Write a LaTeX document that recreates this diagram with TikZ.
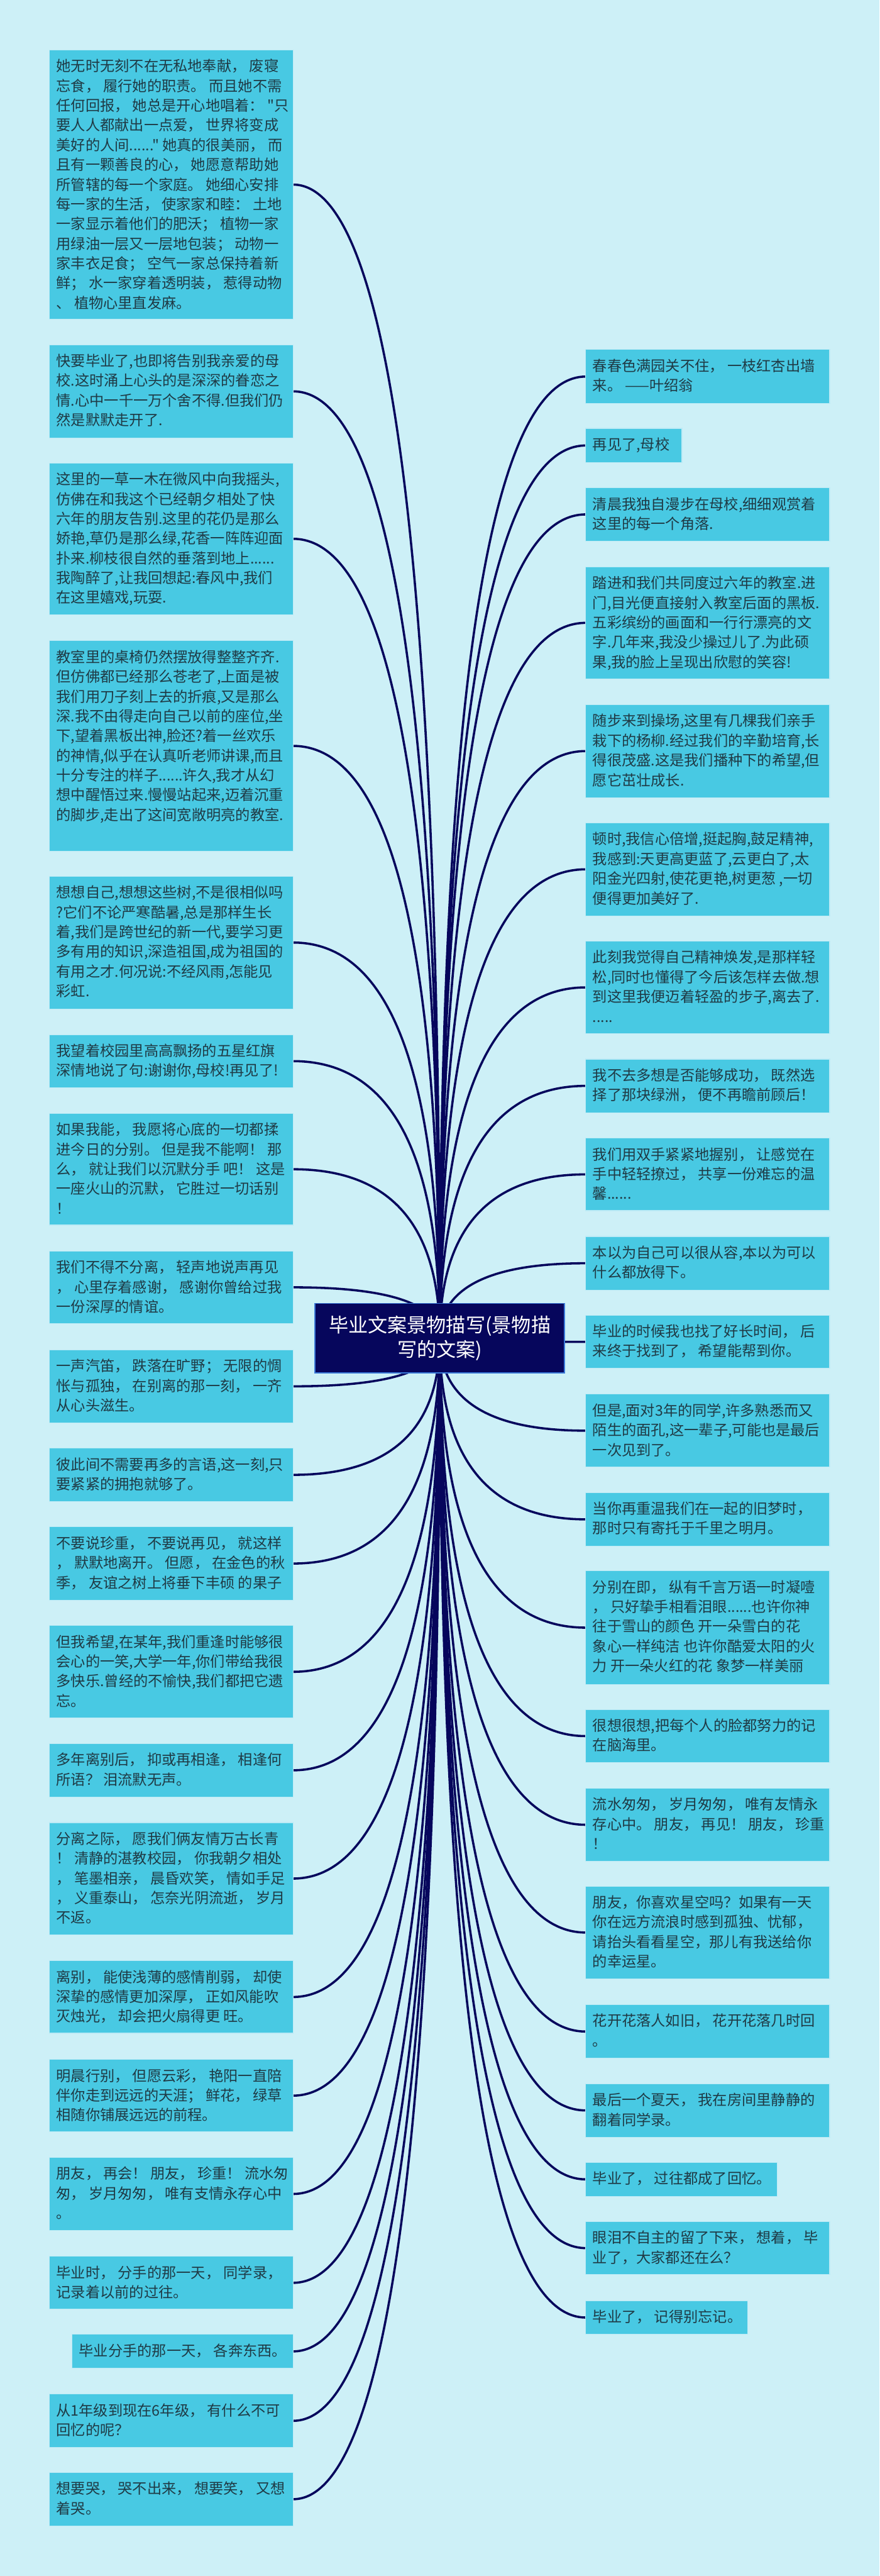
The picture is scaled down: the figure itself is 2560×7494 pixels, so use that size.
\documentclass[tikz,border=0pt]{standalone}
\usepackage{fontspec}
\newfontfamily\cjk{Noto Sans CJK SC}
\usetikzlibrary{calc}
\definecolor{bgc}{HTML}{CDF0F7}
\definecolor{leaffill}{HTML}{48C9E3}
\definecolor{leafline}{HTML}{BDEAF5}
\definecolor{txt}{HTML}{1F3A45}
\definecolor{navy}{HTML}{06065C}
\definecolor{rootline}{HTML}{3A78D8}
\pgfdeclarelayer{bg}\pgfdeclarelayer{lines}\pgfsetlayers{bg,lines,main}
\tikzset{
 leafbox/.style={draw=leafline, line width=2pt, fill=leaffill, inner sep=0pt, outer sep=0pt},
 leaftext/.style={inner sep=0pt, outer sep=0pt, align=left, text=txt, font=\cjk\fontsize{42.5}{57.4}\selectfont},
 conn/.style={draw=navy, line width=6.5pt},
 rootbox/.style={draw=rootline, line width=3pt, fill=navy, inner sep=0pt, outer sep=0pt, minimum width=726pt, minimum height=202pt, align=center, text=white, font=\cjk\fontsize{57}{73}\selectfont}
}
% name, x1, y1, x2, y2, text
\newcommand\leaf[6]{%
 \node[leafbox, anchor=north west, minimum width={(#4)-(#2)}, minimum height={(#5)-(#3)}] (#1) at (#2,-#3) {};
 \node[leaftext, anchor=north west] (#1t) at ({#2+20},{-#3-27}) {#6};
}
\begin{document}
\begin{tikzpicture}[x=1pt,y=1pt]
\useasboundingbox (0,0) rectangle (2560,-7494);
\begin{pgfonlayer}{bg}
\fill[bgc] (0,0) rectangle (2560,-7494);
\end{pgfonlayer}

\node[rootbox] (c) at (1280,-3893) {毕业文案景物描写(景物描\\写的文案)};

% left column
\leaf{L1}{144}{145}{853}{929}{她无时无刻不在无私地奉献， 废寝\\忘食， 履行她的职责。 而且她不需\\任何回报， 她总是开心地唱着： "只\\要人人都献出一点爱， 世界将变成\\美好的人间......" 她真的很美丽， 而\\且有一颗善良的心， 她愿意帮助她\\所管辖的每一个家庭。 她细心安排\\每一家的生活， 使家家和睦： 土地\\一家显示着他们的肥沃； 植物一家\\用绿油一层又一层地包装； 动物一\\家丰衣足食； 空气一家总保持着新\\鲜； 水一家穿着透明装， 惹得动物\\、 植物心里直发麻。}
\leaf{L2}{144}{1003}{853}{1274}{快要毕业了,也即将告别我亲爱的母\\校.这时涌上心头的是深深的眷恋之\\情.心中一千一万个舍不得.但我们仍\\然是默默走开了.}
\leaf{L3}{144}{1347}{853}{1788}{这里的一草一木在微风中向我摇头,\\仿佛在和我这个已经朝夕相处了快\\六年的朋友告别.这里的花仍是那么\\娇艳,草仍是那么绿,花香一阵阵迎面\\扑来.柳枝很自然的垂落到地上......\\我陶醉了,让我回想起:春风中,我们\\在这里嬉戏,玩耍.}
\leaf{L4}{144}{1864}{853}{2476}{教室里的桌椅仍然摆放得整整齐齐.\\但仿佛都已经那么苍老了,上面是被\\我们用刀子刻上去的折痕,又是那么\\深.我不由得走向自己以前的座位,坐\\下,望着黑板出神,脸还?着一丝欢乐\\的神情,似乎在认真听老师讲课,而且\\十分专注的样子......许久,我才从幻\\想中醒悟过来.慢慢站起来,迈着沉重\\的脚步,走出了这间宽敞明亮的教室.}
\leaf{L5}{144}{2549}{853}{2935}{想想自己,想想这些树,不是很相似吗\\?它们不论严寒酷暑,总是那样生长\\着,我们是跨世纪的新一代,要学习更\\多有用的知识,深造祖国,成为祖国的\\有用之才.何况说:不经风雨,怎能见\\彩虹.}
\leaf{L6}{144}{3010}{853}{3164}{我望着校园里高高飘扬的五星红旗\\深情地说了句:谢谢你,母校!再见了!}
\leaf{L7}{144}{3239}{853}{3564}{如果我能， 我愿将心底的一切都揉\\进今日的分别。 但是我不能啊！ 那\\么， 就让我们以沉默分手 吧！ 这是\\一座火山的沉默， 它胜过一切话别\\！}
\leaf{L8}{144}{3640}{853}{3850}{我们不得不分离， 轻声地说声再见\\， 心里存着感谢， 感谢你曾给过我\\一份深厚的情谊。}
\leaf{L9}{144}{3927}{853}{4139}{一声汽笛， 跌落在旷野； 无限的惆\\怅与孤独， 在别离的那一刻， 一齐\\从心头滋生。}
\leaf{L10}{144}{4213}{853}{4368}{彼此间不需要再多的言语,这一刻,只\\要紧紧的拥抱就够了。}
\leaf{L11}{144}{4442}{853}{4655}{不要说珍重， 不要说再见， 就这样\\， 默默地离开。 但愿， 在金色的秋\\季， 友谊之树上将垂下丰硕 的果子}
\leaf{L12}{144}{4729}{853}{4998}{但我希望,在某年,我们重逢时能够很\\会心的一笑,大学一年,你们带给我很\\多快乐.曾经的不愉快,我们都把它遗\\忘。}
\leaf{L13}{144}{5072}{853}{5228}{多年离别后， 抑或再相逢， 相逢何\\所语？ 泪流默无声。}
\leaf{L14}{144}{5302}{853}{5628}{分离之际， 愿我们俩友情万古长青\\！ 清静的湛教校园， 你我朝夕相处\\， 笔墨相亲， 晨昏欢笑， 情如手足\\， 义重泰山， 怎奈光阴流逝， 岁月\\不返。}
\leaf{L15}{144}{5704}{853}{5915}{离别， 能使浅薄的感情削弱， 却使\\深挚的感情更加深厚， 正如风能吹\\灭烛光， 却会把火扇得更 旺。}
\leaf{L16}{144}{5991}{853}{6202}{明晨行别， 但愿云彩， 艳阳一直陪\\伴你走到远远的天涯； 鲜花， 绿草\\相随你铺展远远的前程。}
\leaf{L17}{144}{6276}{853}{6489}{朋友， 再会！ 朋友， 珍重！ 流水匆\\匆， 岁月匆匆， 唯有支情永存心中\\。}
\leaf{L18}{144}{6564}{853}{6718}{毕业时， 分手的那一天， 同学录，\\记录着以前的过往。}
\leaf{L19}{210}{6791}{853}{6890}{毕业分手的那一天， 各奔东西。}
\leaf{L20}{144}{6965}{853}{7120}{从1年级到现在6年级， 有什么不可\\回忆的呢？}
\leaf{L21}{144}{7193}{853}{7348}{想要哭， 哭不出来， 想要笑， 又想\\着哭。}

% right column
\leaf{R1}{1705}{1017}{2415}{1174}{春春色满园关不住， 一枝红杏出墙\\来。 ——叶绍翁}
\leaf{R2}{1705}{1246}{1985}{1346}{再见了,母校}
\leaf{R3}{1705}{1419}{2415}{1574}{清晨我独自漫步在母校,细细观赏着\\这里的每一个角落.}
\leaf{R4}{1705}{1649}{2415}{1975}{踏进和我们共同度过六年的教室.进\\门,目光便直接射入教室后面的黑板.\\五彩缤纷的画面和一行行漂亮的文\\字.几年来,我没少操过儿了.为此硕\\果,我的脸上呈现出欣慰的笑容!}
\leaf{R5}{1705}{2050}{2415}{2320}{随步来到操场,这里有几棵我们亲手\\栽下的杨柳.经过我们的辛勤培育,长\\得很茂盛.这是我们播种下的希望,但\\愿它茁壮成长.}
\leaf{R6}{1705}{2394}{2415}{2664}{顿时,我信心倍增,挺起胸,鼓足精神,\\我感到:天更高更蓝了,云更白了,太\\阳金光四射,使花更艳,树更葱 ,一切\\便得更加美好了.}
\leaf{R7}{1705}{2738}{2415}{3007}{此刻我觉得自己精神焕发,是那样轻\\松,同时也懂得了今后该怎样去做.想\\到这里我便迈着轻盈的步子,离去了.\\.....}
\leaf{R8}{1705}{3081}{2415}{3237}{我不去多想是否能够成功， 既然选\\择了那块绿洲， 便不再瞻前顾后！}
\leaf{R9}{1705}{3311}{2415}{3522}{我们用双手紧紧地握别， 让感觉在\\手中轻轻撩过， 共享一份难忘的温\\馨......}
\leaf{R10}{1705}{3597}{2415}{3753}{本以为自己可以很从容,本以为可以\\什么都放得下。}
\leaf{R11}{1705}{3826}{2415}{3981}{毕业的时候我也找了好长时间， 后\\来终于找到了， 希望能帮到你。}
\leaf{R12}{1705}{4056}{2415}{4268}{但是,面对3年的同学,许多熟悉而又\\陌生的面孔,这一辈子,可能也是最后\\一次见到了。}
\leaf{R13}{1705}{4342}{2415}{4498}{当你再重温我们在一起的旧梦时，\\那时只有寄托于千里之明月。}
\leaf{R14}{1705}{4570}{2415}{4900}{分别在即， 纵有千言万语一时凝噎\\， 只好挚手相看泪眼......也许你神\\往于雪山的颜色 开一朵雪白的花\\象心一样纯洁 也许你酷爱太阳的火\\力 开一朵火红的花 象梦一样美丽}
\leaf{R15}{1705}{4973}{2415}{5128}{很想很想,把每个人的脸都努力的记\\在脑海里。}
\leaf{R16}{1705}{5202}{2415}{5415}{流水匆匆， 岁月匆匆， 唯有友情永\\存心中。 朋友， 再见！ 朋友， 珍重\\！}
\leaf{R17}{1705}{5487}{2415}{5757}{朋友，你喜欢星空吗？如果有一天\\你在远方流浪时感到孤独、忧郁，\\请抬头看看星空，那儿有我送给你\\的幸运星。}
\leaf{R18}{1705}{5832}{2415}{5988}{花开花落人如旧， 花开花落几时回\\。}
\leaf{R19}{1705}{6062}{2415}{6217}{最后一个夏天， 我在房间里静静的\\翻着同学录。}
\leaf{R20}{1705}{6291}{2262}{6389}{毕业了， 过往都成了回忆。}
\leaf{R21}{1705}{6463}{2415}{6617}{眼泪不自主的留了下来， 想着， 毕\\业了，大家都还在么？}
\leaf{R22}{1705}{6693}{2177}{6791}{毕业了， 记得别忘记。}

% connectors
\begin{pgfonlayer}{lines}
\foreach \i in {1,...,21}{
  \coordinate (q) at (c.center |- L\i.east);
  \draw[conn] (c.center) .. controls ($(c.center)!0.6667!(q)$) and ($(L\i.east)!0.6667!(q)$) .. (L\i.east);
}
\foreach \i in {1,...,22}{
  \coordinate (q) at (c.center |- R\i.west);
  \draw[conn] (c.center) .. controls ($(c.center)!0.6667!(q)$) and ($(R\i.west)!0.6667!(q)$) .. (R\i.west);
}
\end{pgfonlayer}
\end{tikzpicture}
\end{document}
